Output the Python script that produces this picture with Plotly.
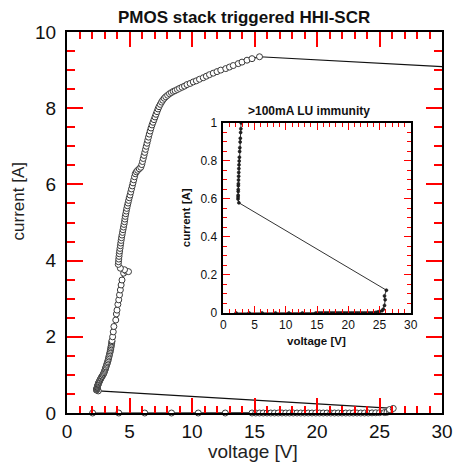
import plotly.graph_objects as go

# --- data (TLP curve: V in volts, I in amperes) ---
pre_v = [2.05, 4.14, 6.22, 8.36, 10.5, 12.66, 14.8, 15.1, 15.4, 15.7, 16.0, 16.3, 16.6, 16.9,
         17.2, 17.5, 17.8, 18.1, 18.4, 18.7, 19.0, 19.3, 19.6, 19.9, 20.2, 20.5, 20.8, 21.1,
         21.4, 21.7, 22.0, 22.3, 22.6, 22.9, 23.2, 23.5, 23.8, 24.1, 24.4, 24.7, 25.0]
pre_i = [0.0] * 38 + [0.003, 0.005, 0.008]
trig_v = [25.4, 25.6, 25.8, 25.9, 25.8, 26.1]
trig_i = [0.012, 0.02, 0.04, 0.07, 0.09, 0.12]
snap_v = [2.50, 2.36, 2.37, 2.38, 2.39, 2.40, 2.41, 2.42, 2.44, 2.46, 2.48,
          2.50, 2.52, 2.55, 2.58, 2.62, 2.65, 2.70, 2.73, 2.78, 2.82,
          2.88, 2.92, 2.96, 3.00, 3.03, 3.06, 3.09, 3.12, 3.16, 3.19,
          3.23, 3.26, 3.29, 3.32, 3.35, 3.38, 3.41, 3.44, 3.46, 3.49,
          3.51, 3.53, 3.55, 3.57, 3.59, 3.60, 3.65, 3.70]
snap_i = [0.58, 0.60, 0.61, 0.62, 0.64, 0.65, 0.67, 0.68, 0.70, 0.72, 0.74,
          0.76, 0.78, 0.80, 0.82, 0.85, 0.87, 0.90, 0.92, 0.95, 0.97,
          1.00, 1.03, 1.06, 1.09, 1.12, 1.15, 1.18, 1.21, 1.25, 1.28,
          1.32, 1.35, 1.39, 1.43, 1.47, 1.51, 1.55, 1.59, 1.63, 1.67,
          1.71, 1.75, 1.79, 1.83, 1.87, 1.90, 2.00, 2.13]
mid_v = [3.75, 3.90, 3.95, 4.00, 4.07, 4.14, 4.20, 4.27, 4.33, 4.40, 4.53, 4.75, 4.92, 4.60, 4.27]
mid_i = [2.27, 2.44, 2.60, 2.70, 2.85, 2.97, 3.10, 3.23, 3.36, 3.49, 3.67, 3.72, 3.71, 3.76, 3.80]
rise_v = [4.10, 4.12, 4.14, 4.16, 4.18, 4.21, 4.24, 4.27, 4.30, 4.33, 4.36, 4.40, 4.44, 4.48,
          4.52, 4.56, 4.60, 4.63, 4.66, 4.70, 4.74, 4.78, 4.83, 4.88, 4.93, 4.98, 5.04, 5.10,
          5.16, 5.22, 5.28, 5.34, 5.40, 5.46, 5.55, 5.65, 5.78, 5.90, 5.98, 6.04, 6.10, 6.16,
          6.22, 6.28, 6.34, 6.40, 6.46, 6.52, 6.58, 6.65, 6.72, 6.80, 6.88, 6.96, 7.04, 7.12,
          7.20, 7.28, 7.36, 7.46, 7.56, 7.66, 7.78, 7.90, 8.05, 8.20, 8.35, 8.50, 8.65, 8.83,
          9.00, 9.20, 9.40, 9.60, 9.85, 10.1, 10.35, 10.6, 10.9, 11.15, 11.4, 11.7, 12.0, 12.3,
          12.7, 13.0, 13.3, 13.7, 14.0, 14.4, 14.8, 15.4]
rise_i = [3.90, 3.97, 4.04, 4.11, 4.18, 4.25, 4.32, 4.39, 4.46, 4.53, 4.60, 4.67, 4.74, 4.81,
          4.88, 4.95, 5.02, 5.09, 5.16, 5.23, 5.30, 5.37, 5.44, 5.51, 5.58, 5.65, 5.72, 5.80,
          5.88, 5.96, 6.04, 6.12, 6.20, 6.28, 6.33, 6.37, 6.41, 6.45, 6.52, 6.60, 6.68, 6.76,
          6.84, 6.92, 7.00, 7.08, 7.16, 7.24, 7.32, 7.40, 7.48, 7.56, 7.63, 7.70, 7.77, 7.84,
          7.91, 7.98, 8.04, 8.10, 8.16, 8.21, 8.26, 8.30, 8.34, 8.38, 8.41, 8.44, 8.46, 8.49,
          8.52, 8.55, 8.58, 8.62, 8.65, 8.69, 8.72, 8.76, 8.80, 8.84, 8.88, 8.92, 8.96, 9.00,
          9.04, 9.08, 9.12, 9.17, 9.21, 9.26, 9.30, 9.35]
tail_v = [33.0]
tail_i = [9.04]

voltage = pre_v + trig_v + snap_v + mid_v + rise_v + tail_v
current = pre_i + trig_i + snap_i + mid_i + rise_i + tail_i

main_x_ticks = [0, 5, 10, 15, 20, 25, 30]
main_y_ticks = [0, 2, 4, 6, 8, 10]
inset_x_ticks = [0, 5, 10, 15, 20, 25, 30]
inset_y_ticks = [0, 0.2, 0.4, 0.6, 0.8, 1]
inset_y_labels = ["0", "0.2", "0.4", "0.6", "0.8", "1"]

FONT = "Liberation Sans, Arial, sans-serif"
INK = "#111111"
TICK = "red"  # diagnostic colour, to check whether the ticks are drawn at all

fig = go.Figure()
fig.add_trace(go.Scatter(
    x=voltage, y=current, mode="lines+markers", cliponaxis=False,
    line=dict(color=INK, width=1.2),
    marker=dict(symbol="circle", size=6, color="white", line=dict(color="#3a3a3a", width=1)),
    xaxis="x", yaxis="y", showlegend=False))
fig.add_trace(go.Scatter(
    x=voltage, y=current, mode="lines+markers",
    line=dict(color="#333333", width=1),
    marker=dict(symbol="circle", size=3, color="#222222", line=dict(color=INK, width=0.6)),
    xaxis="x2", yaxis="y2", showlegend=False))

fig.update_layout(
    width=465, height=465,
    margin=dict(l=67, r=14, t=32, b=52),
    plot_bgcolor="white",
    xaxis=dict(range=[0, 30], tickvals=main_x_ticks, ticks="inside", ticklen=15, tickwidth=1.5,
               tickcolor=TICK, showline=True, linecolor="black", linewidth=2, mirror="ticks",
               showgrid=False, zeroline=False,
               minor=dict(dtick=1, ticklen=7, ticks="inside", tickcolor=TICK),
               tickfont=dict(size=19, family=FONT, color=INK), ticklabelstandoff=0),
    yaxis=dict(range=[0, 10], tickvals=main_y_ticks, ticks="inside", ticklen=16, tickwidth=1.5,
               tickcolor=TICK, showline=True, linecolor="black", linewidth=2, mirror="ticks",
               showgrid=False, zeroline=False,
               minor=dict(dtick=0.5, ticklen=8, ticks="inside", tickcolor=TICK),
               tickfont=dict(size=19, family=FONT, color=INK), ticklabelstandoff=5),
    xaxis2=dict(domain=[0.4167, 0.9167], anchor="y2", range=[0, 30], tickvals=inset_x_ticks,
                ticks="inside", ticklen=7, tickcolor=TICK, showline=True, linecolor="black",
                linewidth=1.5, mirror="ticks", showgrid=False, zeroline=False,
                minor=dict(dtick=1, ticklen=4, ticks="inside", tickcolor=TICK),
                tickfont=dict(size=12, family=FONT, color=INK)),
    yaxis2=dict(domain=[0.2625, 0.7612], anchor="x2", range=[0, 1], tickvals=inset_y_ticks,
                ticktext=inset_y_labels, ticks="inside", ticklen=7, tickcolor=TICK, showline=True,
                linecolor="black", linewidth=1.5, mirror="ticks", showgrid=False, zeroline=False,
                minor=dict(dtick=0.05, ticklen=4, ticks="inside", tickcolor=TICK),
                tickfont=dict(size=12, family=FONT, color=INK), ticklabelstandoff=2),
    annotations=[
        dict(text="<b>PMOS stack triggered HHI-SCR</b>", x=0.471, y=1.039, xref="paper", yref="paper",
             showarrow=False, font=dict(size=17, family=FONT, color=INK), xanchor="center", yanchor="middle"),
        dict(text="current [A]", x=-0.130, y=0.556, xref="paper", yref="paper", textangle=-90,
             showarrow=False, font=dict(size=17, family=FONT, color="#222222"), xanchor="center", yanchor="middle"),
        dict(text="voltage [V]", x=0.497, y=-0.102, xref="paper", yref="paper",
             showarrow=False, font=dict(size=19, family=FONT, color="#222222"), xanchor="center", yanchor="middle"),
        dict(text="<b>&gt;100mA LU immunity</b>", x=0.646, y=0.793, xref="paper", yref="paper",
             showarrow=False, font=dict(size=12, family=FONT, color=INK), xanchor="center", yanchor="middle"),
        dict(text="<b>current [A]</b>", x=0.318, y=0.512, xref="paper", yref="paper", textangle=-90,
             showarrow=False, font=dict(size=11.5, family=FONT, color=INK), xanchor="center", yanchor="middle"),
        dict(text="<b>voltage [V]</b>", x=0.664, y=0.189, xref="paper", yref="paper",
             showarrow=False, font=dict(size=11.5, family=FONT, color=INK), xanchor="center", yanchor="middle"),
    ],
)

fig.write_html("out.html")
